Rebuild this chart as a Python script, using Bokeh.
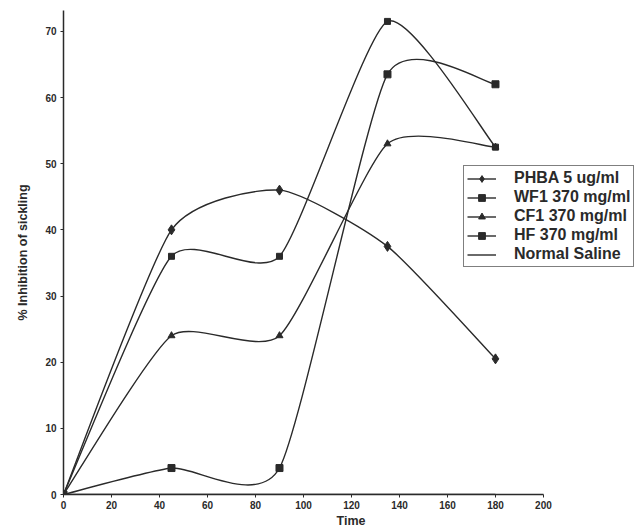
from bokeh.plotting import figure
from bokeh.models import ColumnDataSource, Range1d, FixedTicker, Legend, LegendItem
from bokeh.embed import file_html
from bokeh.resources import INLINE

# ---- data ----
time = [0, 45, 90, 135, 180]
phba = [0, 40, 46, 37.5, 20.5]
wf1 = [0, 36, 36, 71.5, 52.5]
cf1 = [0, 24, 24, 53, 52.5]
hf = [0, 4, 4, 63.5, 62]
saline = [0, 0, 0, 0, 0]
labels = ["PHBA 5 ug/ml", "WF1 370 mg/ml", "CF1 370 mg/ml", "HF 370 mg/ml", "Normal Saline"]
x_ticks = [0, 20, 40, 60, 80, 100, 120, 140, 160, 180, 200]
y_ticks = [0, 10, 20, 30, 40, 50, 60, 70]

INK = "#2a2a2a"
FONT = "Liberation Sans"

p = figure(width=640, height=530, output_backend="svg", toolbar_location=None,
           x_range=Range1d(0, 239.6), y_range=Range1d(0, 73.15),
           min_border_left=63, min_border_right=2, min_border_top=10, min_border_bottom=30)
p.outline_line_color = None
p.xgrid.visible = False
p.ygrid.visible = False
p.background_fill_color = "white"


def smooth_source(xs, ys, k=0.1):
    n = len(xs)
    d = dict(x0=[], y0=[], x1=[], y1=[], cx0=[], cy0=[], cx1=[], cy1=[])
    for i in range(n - 1):
        a = max(i - 1, 0)
        b = min(i + 2, n - 1)
        d["x0"].append(xs[i]); d["y0"].append(ys[i])
        d["x1"].append(xs[i + 1]); d["y1"].append(ys[i + 1])
        d["cx0"].append(xs[i] + k * (xs[i + 1] - xs[a]))
        d["cy0"].append(ys[i] + k * (ys[i + 1] - ys[a]))
        d["cx1"].append(xs[i + 1] - k * (xs[b] - xs[i]))
        d["cy1"].append(ys[i + 1] - k * (ys[b] - ys[i]))
    return ColumnDataSource(d)


series = [(phba, "diamond", 10), (wf1, "square", 6), (cf1, "triangle", 7), (hf, "square", 7)]
items = []
for (vals, marker, size), lab in zip(series, labels[:4]):
    p.bezier(x0="x0", y0="y0", x1="x1", y1="y1", cx0="cx0", cy0="cy0", cx1="cx1", cy1="cy1",
             source=smooth_source(time, vals), line_color=INK, line_width=1.4)
    # single-point line: draws nothing in the plot, only gives the legend its line
    leg_line = p.line(x=time[:1], y=vals[:1], line_color=INK, line_width=1.4)
    sc = p.scatter(time, vals, marker=marker, size=size, fill_color=INK, line_color=INK)
    items.append(LegendItem(label=lab, renderers=[leg_line, sc]))

sal = p.line(time, saline, line_color=INK, line_width=1.4)
items.append(LegendItem(label=labels[4], renderers=[sal]))

legend = Legend(items=items, location=(400, 227), margin=0, padding=3, spacing=1,
                label_text_font=FONT, label_text_font_size="16px", label_text_font_style="bold",
                label_text_color=INK, glyph_width=29, glyph_height=17, label_height=17,
                label_standoff=18,
                border_line_color="black", border_line_width=1.5,
                background_fill_alpha=1.0)
p.add_layout(legend)

for ax in (p.xaxis[0], p.yaxis[0]):
    ax.axis_line_color = INK
    ax.axis_line_width = 1.5
    ax.major_tick_line_color = INK
    ax.major_tick_out = 3
    ax.major_tick_in = 0
    ax.minor_tick_line_color = None
    ax.major_label_text_font = FONT
    ax.major_label_text_font_size = "10px"
    ax.major_label_text_font_style = "bold"
    ax.major_label_text_color = INK
    ax.axis_label_text_font = FONT
    ax.axis_label_text_font_size = "12.5px"
    ax.axis_label_text_font_style = "bold"
    ax.axis_label_text_color = INK

p.xaxis[0].ticker = FixedTicker(ticks=x_ticks)
p.yaxis[0].ticker = FixedTicker(ticks=y_ticks)
p.xaxis[0].bounds = (0, 200)
p.xaxis[0].axis_label = "Time"
p.xaxis[0].axis_label_standoff = 2
p.xaxis[0].major_label_standoff = 3
p.yaxis[0].axis_label = "% Inhibition of sickling"
p.yaxis[0].axis_label_standoff = 12
p.yaxis[0].major_label_standoff = 4

open("out.html", "w").write(file_html(p, INLINE))
